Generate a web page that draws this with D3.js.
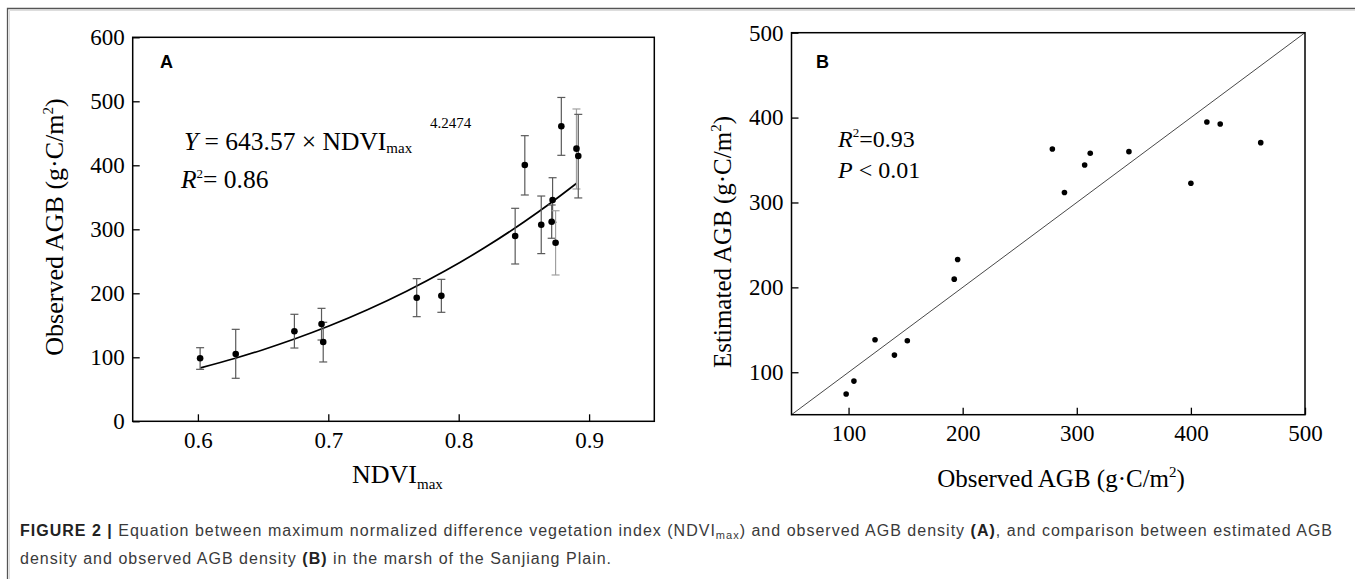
<!DOCTYPE html>
<html>
<head>
<meta charset="utf-8">
<script src="https://cdn.jsdelivr.net/npm/d3@7"></script>
<style>
  html, body { margin: 0; padding: 0; background: #fff; }
  svg { display: block; }
  .tick text { font-family: 'Liberation Serif', 'Times New Roman', serif !important; font-size: 23px !important; fill: #000; }
</style>
</head>
<body>
<svg id="chart" width="1355" height="579"></svg>
<script>
// ---------- Panel A data ----------
const ndviMax = [0.6017, 0.629, 0.674, 0.6948, 0.6961, 0.7678, 0.7867, 0.8433, 0.8507, 0.8633, 0.8713, 0.872, 0.8743, 0.8787, 0.8903, 0.8917];
const observedAGB = [98.4, 105.2, 140.6, 152, 123.9, 193.1, 196, 289.5, 400.5, 307.2, 311.9, 345.8, 279, 461, 426, 414.5];
const errUpper = [115, 143.7, 167.2, 176.5, 154.7, 222.9, 221.8, 332.8, 446.3, 352, 338, 380.6, 329, 506, 488, 479.6];
const errLower = [81.2, 67.2, 114.5, 127, 92.7, 163.5, 170.3, 245.8, 353.6, 262, 286, 311, 228.6, 415.6, 363, 349];
// fitted curve as drawn in the figure
const fitNdvi = [0.602, 0.628, 0.65, 0.674, 0.70, 0.73, 0.76, 0.79, 0.82, 0.85, 0.87, 0.8905];
const fitAGB = [83.5, 98.1, 111.9, 128.5, 148.4, 174.2, 203.2, 235.5, 271.5, 311.4, 340.3, 372];
const xTicksA = [0.6, 0.7, 0.8, 0.9];
const yTicksA = [0, 100, 200, 300, 400, 500, 600];

// ---------- Panel B data ----------
const observedB = [97.9, 104.7, 123.2, 140.2, 151.5, 192.6, 195.6, 278.6, 289.2, 306.9, 311.8, 345.7, 400, 414, 425.7, 461.2];
const estimatedB = [74.3, 89.6, 138.3, 120.2, 137.1, 209.7, 232.8, 363, 311.7, 344.2, 358, 359.9, 322.7, 394.8, 392.5, 370.5];
const oneToOne = [50, 500];
const ticksB = [100, 200, 300, 400, 500];

const serif = "'Liberation Serif', 'Times New Roman', serif";
const sans = "'Liberation Sans', Arial, Helvetica, sans-serif";

const svg = d3.select("#chart");

// outer frame
svg.append("path").attr("d", "M7.5,579V8.5H1355").attr("fill", "none").attr("stroke", "#555").attr("stroke-width", 1.3);
svg.append("path").attr("d", "M9.5,579V10.5H1355").attr("fill", "none").attr("stroke", "#ddd").attr("stroke-width", 1);

function frameAxes(g, x, y, xt, yt, xfmt, yfmt) {
  const [x0, x1] = x.range();
  const [y0, y1] = y.range();
  const xAxis = d3.axisBottom(x).tickValues(xt).tickSizeInner(-7).tickSizeOuter(0).tickPadding(10).tickFormat(xfmt);
  const yAxis = d3.axisLeft(y).tickValues(yt).tickSizeInner(-7).tickSizeOuter(0).tickPadding(8).tickFormat(yfmt);
  const gx = g.append("g").attr("transform", `translate(0,${y0})`).call(xAxis);
  const gy = g.append("g").attr("transform", `translate(${x0},0)`).call(yAxis);
  [gx, gy].forEach(a => {
    a.attr("font-family", serif).attr("font-size", 23);
    a.select(".domain").remove();
    a.selectAll(".tick line").attr("stroke", "#000").attr("stroke-width", 1.3);
  });
  g.append("rect").attr("x", x0).attr("y", y1).attr("width", x1 - x0).attr("height", y0 - y1)
    .attr("fill", "none").attr("stroke", "#000").attr("stroke-width", 1.5);
}

// ================= Panel A =================
const xA = d3.scaleLinear().domain([0.55, 0.95]).range([132.7, 654.3]);
const yA = d3.scaleLinear().domain([0, 600]).range([421.3, 37.3]);
const gA = svg.append("g");

// fit curve
const fitData = fitNdvi.map((v, i) => [v, fitAGB[i]]);
gA.append("path").datum(fitData)
  .attr("d", d3.line().x(d => xA(d[0])).y(d => yA(d[1])).curve(d3.curveMonotoneX))
  .attr("fill", "none").attr("stroke", "#000").attr("stroke-width", 1.7);

// error bars
const ptsA = ndviMax.map((v, i) => ({ x: v, y: observedAGB[i], hi: errUpper[i], lo: errLower[i], i }));
const lightBars = new Set([12, 14]);
const eb = gA.append("g").selectAll("g").data(ptsA).join("g")
  .attr("stroke", d => lightBars.has(d.i) ? "#a0a0a0" : "#5a5a5a").attr("stroke-width", 1.2);
eb.append("line").attr("x1", d => xA(d.x)).attr("x2", d => xA(d.x)).attr("y1", d => yA(d.hi)).attr("y2", d => yA(d.lo));
eb.append("line").attr("x1", d => xA(d.x) - 4).attr("x2", d => xA(d.x) + 4).attr("y1", d => yA(d.hi)).attr("y2", d => yA(d.hi));
eb.append("line").attr("x1", d => xA(d.x) - 4).attr("x2", d => xA(d.x) + 4).attr("y1", d => yA(d.lo)).attr("y2", d => yA(d.lo));

gA.append("g").selectAll("circle").data(ptsA).join("circle")
  .attr("cx", d => xA(d.x)).attr("cy", d => yA(d.y)).attr("r", 3.3).attr("fill", "#000");

frameAxes(gA, xA, yA, xTicksA, yTicksA, d3.format(".1f"), d3.format("d"));

gA.append("text").attr("x", 160).attr("y", 68).attr("font-family", sans).attr("font-weight", "bold")
  .attr("font-size", 18).text("A");

// equation
const eq = gA.append("text").attr("x", 184).attr("y", 150).attr("font-family", serif).attr("font-size", 25.5);
eq.append("tspan").attr("font-style", "italic").text("Y");
eq.append("tspan").text(" = 643.57 × NDVI");
eq.append("tspan").attr("font-size", 15).attr("dy", 3).text("max");
gA.append("text").attr("x", 430).attr("y", 128).attr("font-family", serif).attr("font-size", 15).text("4.2474");

const r2a = gA.append("text").attr("x", 181).attr("y", 188).attr("font-family", serif).attr("font-size", 25.5);
r2a.append("tspan").attr("font-style", "italic").text("R");
r2a.append("tspan").attr("font-size", 13).attr("dy", -10).text("2");
r2a.append("tspan").attr("dy", 10).text("= 0.86");

// axis titles
const xtA = gA.append("text").attr("x", 352).attr("y", 483).attr("font-family", serif).attr("font-size", 26);
xtA.append("tspan").text("NDVI");
xtA.append("tspan").attr("font-size", 15).attr("dy", 6).text("max");

const ytA = gA.append("text").attr("transform", "translate(63,227) rotate(-90)").attr("text-anchor", "middle")
  .attr("font-family", serif).attr("font-size", 26);
ytA.append("tspan").text("Observed AGB (g·C/m");
ytA.append("tspan").attr("font-size", 15).attr("dy", -10).text("2");
ytA.append("tspan").attr("dy", 10).text(")");

// ================= Panel B =================
const xB = d3.scaleLinear().domain([50, 500]).range([791.5, 1305]);
const yB = d3.scaleLinear().domain([50, 500]).range([414.7, 32.7]);
const gB = svg.append("g");

gB.append("line").attr("x1", xB(oneToOne[0])).attr("y1", yB(oneToOne[0])).attr("x2", xB(oneToOne[1])).attr("y2", yB(oneToOne[1]))
  .attr("stroke", "#333").attr("stroke-width", 0.9);

gB.append("g").selectAll("circle").data(observedB.map((v, i) => [v, estimatedB[i]])).join("circle")
  .attr("cx", d => xB(d[0])).attr("cy", d => yB(d[1])).attr("r", 2.8).attr("fill", "#000");

frameAxes(gB, xB, yB, ticksB, ticksB, d3.format("d"), d3.format("d"));

gB.append("text").attr("x", 816).attr("y", 68).attr("font-family", sans).attr("font-weight", "bold")
  .attr("font-size", 18).text("B");

const r2b = gB.append("text").attr("x", 838).attr("y", 147).attr("font-family", serif).attr("font-size", 24);
r2b.append("tspan").attr("font-style", "italic").text("R");
r2b.append("tspan").attr("font-size", 13).attr("dy", -10).text("2");
r2b.append("tspan").attr("dy", 10).text("=0.93");
const pb = gB.append("text").attr("x", 838).attr("y", 178).attr("font-family", serif).attr("font-size", 24);
pb.append("tspan").attr("font-style", "italic").text("P");
pb.append("tspan").text(" < 0.01");

const xtB = gB.append("text").attr("x", 1061).attr("y", 487).attr("text-anchor", "middle")
  .attr("font-family", serif).attr("font-size", 25);
xtB.append("tspan").text("Observed AGB (g·C/m");
xtB.append("tspan").attr("font-size", 15).attr("dy", -10).text("2");
xtB.append("tspan").attr("dy", 10).text(")");

const ytB = gB.append("text").attr("transform", "translate(731,242) rotate(-90)").attr("text-anchor", "middle")
  .attr("font-family", serif).attr("font-size", 25);
ytB.append("tspan").text("Estimated AGB (g·C/m");
ytB.append("tspan").attr("font-size", 15).attr("dy", -10).text("2");
ytB.append("tspan").attr("dy", 10).text(")");

// ================= Caption =================
const capX = 20, capEnd = 1333;
const capSize = 16;
const c1 = svg.append("text").attr("x", capX).attr("y", 536).attr("font-family", sans).attr("font-size", capSize).attr("fill", "#3a3a3a");
c1.append("tspan").attr("font-weight", "bold").attr("fill", "#222").text("FIGURE 2 |");
c1.append("tspan").text(" Equation between maximum normalized difference vegetation index (NDVI");
c1.append("tspan").attr("font-size", 11).attr("dy", 3).text("max");
c1.append("tspan").attr("dy", -3).text(") and observed AGB density ");
c1.append("tspan").attr("font-weight", "bold").attr("fill", "#222").text("(A)");
c1.append("tspan").text(", and comparison between estimated AGB");

const c2 = svg.append("text").attr("x", capX).attr("y", 564).attr("font-family", sans).attr("font-size", capSize).attr("fill", "#3a3a3a");
c2.append("tspan").text("density and observed AGB density ");
c2.append("tspan").attr("font-weight", "bold").attr("fill", "#222").text("(B)");
c2.append("tspan").text(" in the marsh of the Sanjiang Plain.");

// fit caption line 1 to its width in the reference via letter spacing
const w1 = c1.node().getComputedTextLength();
const n1 = c1.text().length;
const ls = (capEnd - capX - w1) / n1;
c1.attr("letter-spacing", ls);
c2.attr("letter-spacing", ls);
</script>
</body>
</html>
